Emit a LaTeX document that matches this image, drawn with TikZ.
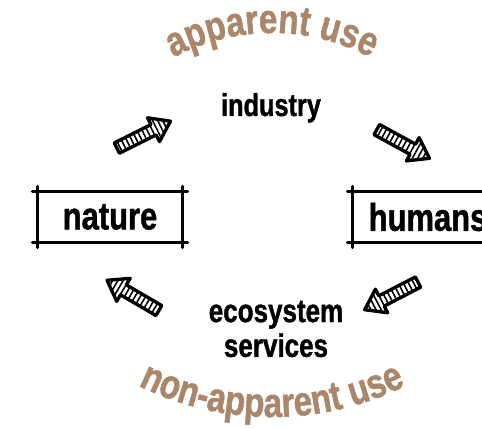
\documentclass[tikz,border=0pt]{standalone}
\usepackage{fontspec}
\newfontfamily\diagfont{Liberation Sans}[FakeStretch=0.8, BoldFeatures={FakeBold=1.2}]
\usetikzlibrary{shapes.arrows,patterns.meta,decorations.text}
\definecolor{usebrown}{RGB}{170,134,106}

\begin{document}
\begin{tikzpicture}[x=0.02cm, y=0.02cm,
  boxlabel/.style={rectangle, inner sep=0pt, minimum height=1cm,
    font=\diagfont\bfseries\fontsize{22}{24}\selectfont},
  sketch/.style={line width=1.6pt, line cap=round},
  flow/.style={font=\diagfont\bfseries\fontsize{#1}{19.8}\selectfont, align=center},
  blockarrow/.style={single arrow, draw, line width=1.9pt, line join=round,
    inner xsep=0pt, inner ysep=0.1cm, minimum height=1.2cm,
    single arrow head extend=0.15cm, single arrow tip angle=70,
    preaction={fill=white},
    pattern={Lines[angle=#1+90, distance=2.6pt, line width=0.9pt]},
    rotate=#1},
  curved/.style={decorate, decoration={text along path, text align=center,
    text color=usebrown, text={|\diagfont\bfseries\fontsize{23.5}{24}\selectfont|#1}}}]

  \useasboundingbox (0,0) rectangle (482,428);
  \clip (0,0) rectangle (482,428);

  % boxes
  \node[boxlabel, minimum width=2.88cm] (nature) at (110,211) {nature};
  \node[boxlabel, minimum width=3.0cm] (humans) at (428,211) {humans};
  \foreach \n in {nature,humans}{
    \draw[sketch] ([xshift=-3pt]\n.north west) -- ([xshift=3pt]\n.north east);
    \draw[sketch] ([xshift=-3pt]\n.south west) -- ([xshift=3pt]\n.south east);
    \draw[sketch] ([yshift=3pt]\n.north west) -- ([yshift=-3pt]\n.south west);
    \draw[sketch] ([yshift=3pt]\n.north east) -- ([yshift=-3pt]\n.south east);
  }

  % labels
  \node[flow=18, anchor=base] (industry) at (271,312) {industry};
  \node[flow=18.5] (services) at (276,99) {ecosystem\\services};

  % arrows
  \node[blockarrow=26.6] (upleft) at (140,291.5) {};
  \node[blockarrow=-28.6] (upright) at (399.5,286) {};
  \node[blockarrow=207.4] (downright) at (395,134) {};
  \node[blockarrow=149.7] (downleft) at (136.5,130.5) {};

  % curved texts
  \path[curved={apparent use}] (272,185) ++(150:210) arc[start angle=150, end angle=30, radius=210];
  \path[curved={non-apparent use}] (272,311) ++(240:300) arc[start angle=240, end angle=300, radius=300];
\end{tikzpicture}
\end{document}
